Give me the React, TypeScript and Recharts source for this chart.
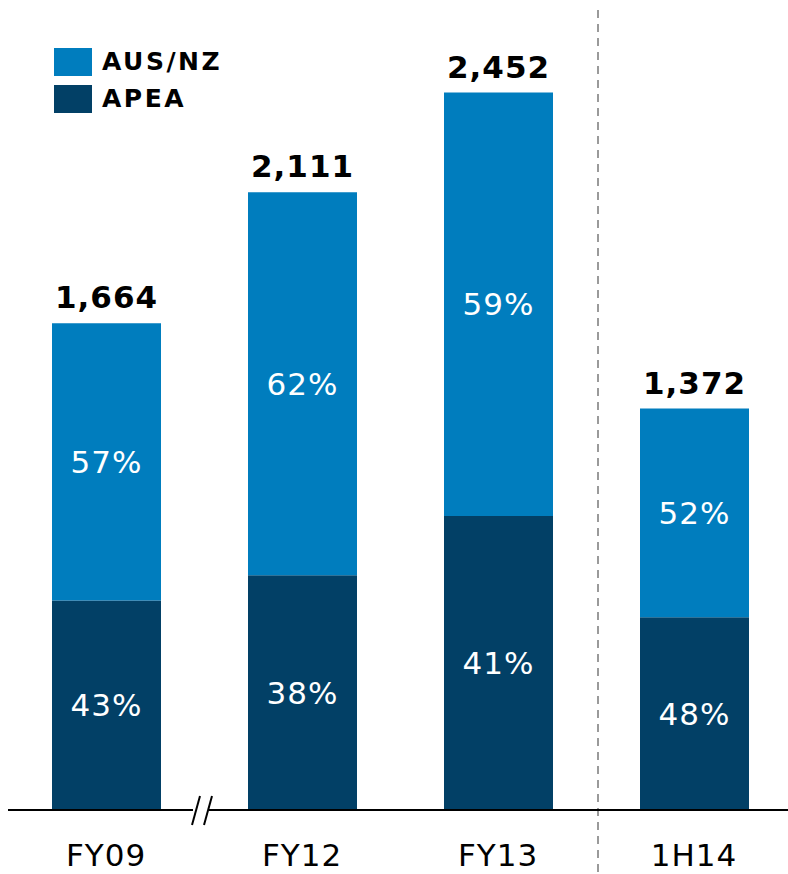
import { BarChart, Bar, XAxis, YAxis, LabelList, ReferenceLine } from 'recharts';

const categories = ['FY09', 'FY12', 'FY13', '1H14'];
const totals = [1664, 2111, 2452, 1372];
const apea = [716, 802, 1005, 659];
const ausNz = [948, 1309, 1447, 713];
const apeaPct = [43, 38, 41, 48];
const ausNzPct = [57, 62, 59, 52];

const FONT = '"DejaVu Sans", Verdana, sans-serif';
const LIGHT = '#007dbe';
const DARK = '#024066';

const data = categories.map((name, i) => ({
  name,
  total: totals[i],
  apea: apea[i],
  ausNz: ausNz[i],
  apeaPct: apeaPct[i],
  ausNzPct: ausNzPct[i],
}));

const LEGEND_ITEMS = [
  { label: 'AUS/NZ', color: LIGHT },
  { label: 'APEA', color: DARK },
];

const AxisTick = ({ x, y, payload }: any) => (
  <text x={x} y={y} dy={48} textAnchor="middle" fontSize={31} letterSpacing={1} fill="#000" fontFamily={FONT}>
    {payload.value}
  </text>
);

export default function App() {
  return (
    <div style={{ position: 'absolute', left: 0, top: 0, width: 788, height: 874, overflow: 'hidden', background: '#fff' }}>
      <BarChart width={792} height={874} data={data} margin={{ top: 20, right: 0, left: 8, bottom: 0 }} barSize={109}>
        <XAxis
          dataKey="name"
          height={64}
          axisLine={{ stroke: '#000', strokeWidth: 2 }}
          tickLine={false}
          tick={<AxisTick />}
          interval={0}
        />
        <YAxis hide width={0} domain={[0, 2700]} />
        <ReferenceLine
          x="FY13"
          position="end"
          shape={(p: any) => (
            <line x1={p.x1 + 2} x2={p.x2 + 2} y1={10} y2={874} stroke="#9a9a9a" strokeWidth={2} strokeDasharray="8 6" />
          )}
        />
        <Bar dataKey="apea" stackId="a" fill={DARK} isAnimationActive={false}>
          <LabelList
            dataKey="apeaPct"
            position="center"
            formatter={(v: any) => `${v}%`}
            fill="#fff"
            fontSize={31}
            letterSpacing={1}
            fontFamily={FONT}
          />
        </Bar>
        <Bar dataKey="ausNz" stackId="a" fill={LIGHT} isAnimationActive={false}>
          <LabelList
            dataKey="ausNzPct"
            position="center"
            formatter={(v: any) => `${v}%`}
            fill="#fff"
            fontSize={31}
            letterSpacing={1}
            fontFamily={FONT}
          />
          <LabelList
            dataKey="total"
            position="top"
            offset={15}
            formatter={(v: any) => Number(v).toLocaleString('en-US')}
            fill="#000"
            fontSize={31}
            letterSpacing={1}
            fontWeight={700}
            fontFamily={FONT}
          />
        </Bar>
      </BarChart>
      {/* legend */}
      <div style={{ position: 'absolute', left: 54, top: 43, fontFamily: FONT }}>
        {LEGEND_ITEMS.map((item) => (
          <div key={item.label} style={{ display: 'flex', alignItems: 'center', height: 37 }}>
            <span style={{ width: 38, height: 28, background: item.color, display: 'inline-block' }} />
            <span style={{ marginLeft: 10, fontSize: 25, fontWeight: 700, color: '#000', letterSpacing: 2.5 }}>
              {item.label}
            </span>
          </div>
        ))}
      </div>
      {/* axis break marks */}
      <svg width={788} height={874} style={{ position: 'absolute', left: 0, top: 0, pointerEvents: 'none' }}>
        <rect x={193} y={806} width={16} height={8} fill="#fff" />
        <line x1={192} y1={825} x2={200} y2={796} stroke="#000" strokeWidth={2} />
        <line x1={204} y1={825} x2={212} y2={796} stroke="#000" strokeWidth={2} />
      </svg>
    </div>
  );
}
